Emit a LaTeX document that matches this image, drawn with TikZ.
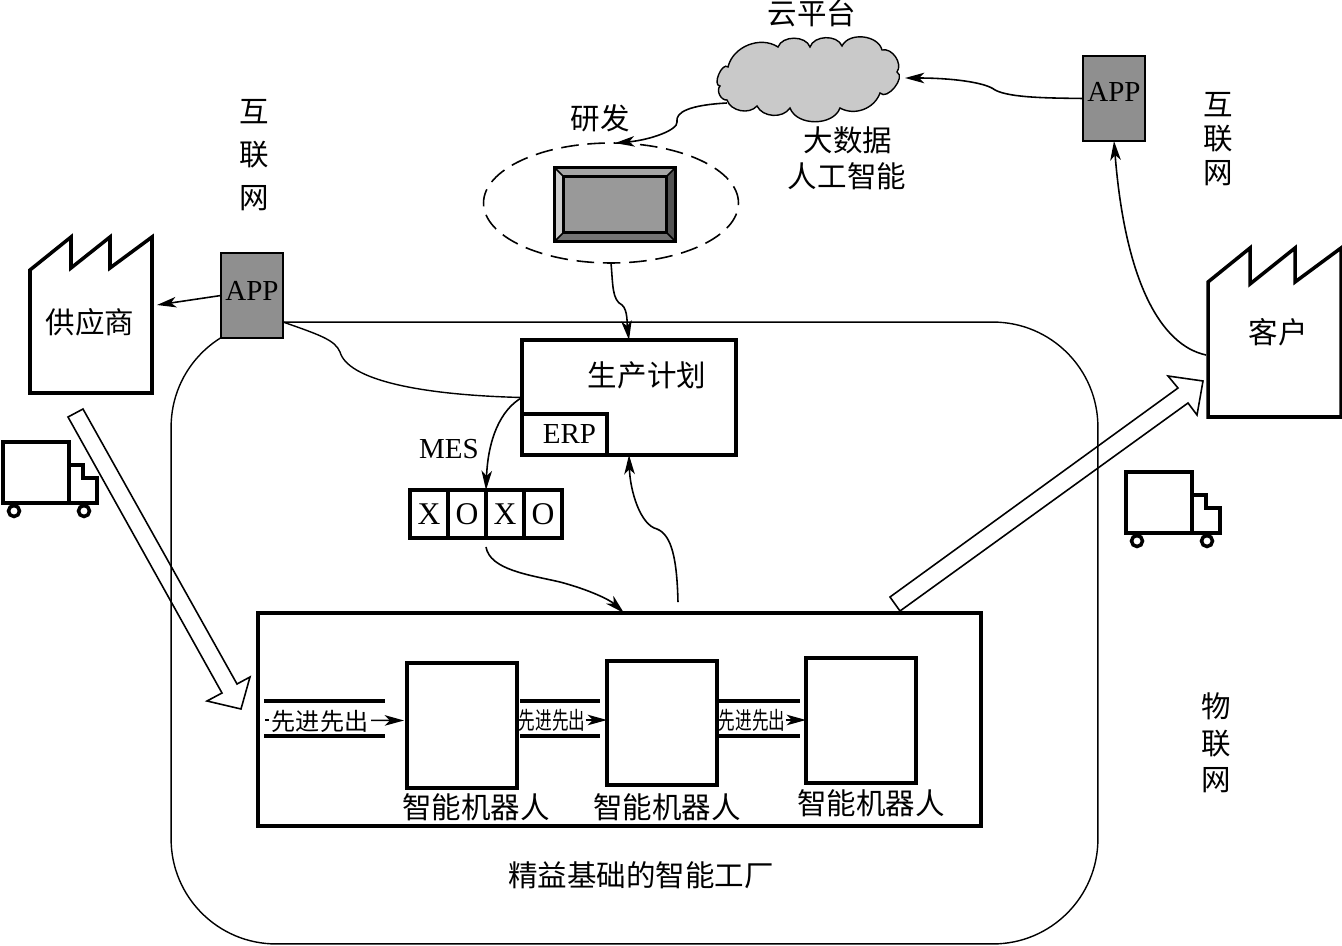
\documentclass[tikz,border=0pt]{standalone}
\usepackage{fontspec}
\usepackage{graphicx}
\setmainfont{Liberation Serif}
\newfontfamily\cjk{Noto Sans CJK SC}
\usetikzlibrary{arrows.meta,shapes.geometric}
\definecolor{appgray}{gray}{0.56}
\definecolor{cloudgray}{gray}{0.79}
\tikzset{
    flow/.style={-{Stealth[length=11pt,width=6pt,inset=3pt]}, line width=0.9pt},
    thinline/.style={line width=0.8pt},
    heavybox/.style={draw, line width=1.9pt, fill=white, inner sep=0pt, outer sep=0pt},
    appbox/.style={draw, line width=1.4pt, fill=appgray, inner sep=0pt, outer sep=0pt,
        minimum width=1.24cm, minimum height=1.7cm},
    robotbox/.style={heavybox, line width=2.1pt, minimum width=2.2cm},
    cell/.style={heavybox, line width=2.1pt, minimum width=0.76cm, minimum height=0.96cm, font=\fontsize{18}{20}\selectfont},
    lane/.style={line width=1.9pt},
    hollow/.style={draw, line width=0.9pt},
    plant/.style={draw, line width=2pt, fill=white, line join=miter},
    zh/.style={font=\cjk\fontsize{16.8}{20}\selectfont, inner sep=0pt},
    latin/.style={font=\fontsize{16.5}{20}\selectfont},
    fifo/.style={font=\cjk\fontsize{13.7}{16}\selectfont, inner sep=0pt},
    truck/.pic={
        \draw[line width=2pt] (66,23) -- (80,23) -- (80,36) -- (94,36) -- (94,61) -- (66,61);
        \draw[line width=2pt, fill=white] (0,0) rectangle (66,61);
        \draw[line width=2pt, fill=white] (11,69) circle (0.11cm);
        \draw[line width=2pt, fill=white] (81,69) circle (0.11cm);
    },
}
\begin{document}
\begin{tikzpicture}[x=0.02cm, y=-0.02cm]
    \useasboundingbox (0,0) rectangle (1342,946);

    \node[draw, line width=0.8pt, rounded corners=2.1cm, inner sep=0pt, outer sep=0pt,
        minimum width=18.54cm, minimum height=12.44cm] (zone) at (634.5,633) {};

    \draw[line width=0.8pt, fill=cloudgray] (728,67) to[bend left=55] (778,47) to[bend left=70] (810,47)
        to[bend left=70] (842,46) to[bend left=70] (882,50) to[bend left=70] (897,72) to[bend left=100] (880,93)
        to[bend left=50] (840,108) to[bend left=70] (790,108) to[bend left=60] (757,106)
        to[bend left=60] (727,100) to[bend left=70] (720,86) to[bend left=110] (728,67) -- cycle;
    \coordinate (cloudout) at (727,103);
    \coordinate (cloudin) at (905,78);
    \node[zh] (cloudtitle) at (812,13) {云平台};
    \node[zh] (bigdata) at (848,140) {大数据};
    \node[zh] (aitext) at (847,176) {人工智能};
    \node[zh] (rdtext) at (600,118) {研发};

    \node[ellipse, draw, line width=0.9pt, dash pattern=on 10pt off 5pt, inner sep=0pt, outer sep=0pt,
        minimum width=5.1cm, minimum height=2.4cm] (rdzone) at (611,203) {};
    \node[draw, line width=1.5pt, inner sep=0pt, minimum width=2.38cm, minimum height=1.44cm, fill=appgray] (screen) at (615,204.5) {};
    \node[draw, line width=1.1pt, inner sep=0pt, minimum width=2.02cm, minimum height=1.08cm, fill=black!40] (screenin) at (615,204.5) {};
    \fill[black!35] (screen.north west) -- (screen.north east) -- (screenin.north east) -- (screenin.north west) -- cycle;
    \fill[black!20] (screen.north west) -- (screen.south west) -- (screenin.south west) -- (screenin.north west) -- cycle;
    \fill[black!55] (screen.south west) -- (screen.south east) -- (screenin.south east) -- (screenin.south west) -- cycle;
    \fill[black!68] (screen.north east) -- (screen.south east) -- (screenin.south east) -- (screenin.north east) -- cycle;
    \draw[line width=1.5pt] (screen.north west) rectangle (screen.south east);
    \draw[line width=1.3pt] (screenin.north west) rectangle (screenin.south east);
    \draw[line width=0.9pt] (screen.north west) -- (screenin.north west);
    \draw[line width=0.9pt] (screen.north east) -- (screenin.north east);
    \draw[line width=0.9pt] (screen.south west) -- (screenin.south west);
    \draw[line width=0.9pt] (screen.south east) -- (screenin.south east);

    \node[appbox] (appleft) at (252,295.5) {};
    \node[latin, inner sep=0pt] (applefttext) at (252,291) {APP};
    \node[appbox] (appright) at (1114,98.5) {};
    \node[latin, inner sep=0pt] (apprighttext) at (1114,92) {APP};
    \node[zh, align=center] (netleft) at (254,155) {互\\[4.3pt]联\\[4.3pt]网};
    \node[zh, align=center] (netright) at (1218,139) {互\\[-0.6pt]联\\[-0.6pt]网};
    \node[zh, align=center] (iot) at (1216,743) {物\\[0.7pt]联\\[0.7pt]网};

    \draw[plant] (30,270) -- (71,237) -- (71,268) -- (110,237) -- (110,268) -- (152,237) -- (152,393) -- (30,393) -- cycle;
    \node[zh] (supplier) at (90,322) {供应商};
    \coordinate (supplierin) at (157,305);
    \draw[plant] (1208,282) -- (1250,248) -- (1250,284) -- (1295,248) -- (1295,282) -- (1341,248) -- (1341,417) -- (1208,417) -- cycle;
    \node[zh] (customer) at (1278,332) {客户};
    \coordinate (customerout) at (1206,355);

    \pic at (3,442) {truck};
    \pic at (1126,472) {truck};

    \draw[hollow] (68,417) -- (83,409) -- (237,684) -- (250,677) -- (241,709) -- (207,701) -- (222,693) -- cycle;
    \draw[hollow] (890,597) -- (900,611) -- (1188,403) -- (1197,415) -- (1203,381) -- (1168,376) -- (1178,388) -- cycle;

    \node[heavybox, minimum width=4.28cm, minimum height=2.3cm] (plan) at (629,397.5) {};
    \node[zh] (plantext) at (647,375) {生产计划};
    \node[heavybox, latin, minimum width=1.7cm, minimum height=0.82cm] (erp) at (564.5,434.5) {\hspace*{0.2cm}\raisebox{-1pt}{ERP}};
    \node[latin, inner sep=0pt] (mes) at (449,449) {MES};
    \foreach \i/\cellmark in {0/X,1/O,2/X,3/O}
        \node[cell] (cell\i) at (429+\i*38,514) {\raisebox{-1pt}{\cellmark}};

    \node[heavybox, minimum width=14.46cm, minimum height=4.26cm] (line) at (619.5,719.5) {};
    \node[robotbox, minimum height=2.5cm] (robota) at (462,725.5) {};
    \node[robotbox, minimum height=2.48cm] (robotb) at (662,723) {};
    \node[robotbox, minimum height=2.5cm] (robotc) at (861,720.5) {};
    \node[zh] (robotatext) at (476,807) {智能机器人};
    \node[zh] (robotbtext) at (667,807) {智能机器人};
    \node[zh] (robotctext) at (871,803) {智能机器人};
    \node[zh] (title) at (641,875) {精益基础的智能工厂};

    \draw[lane] (264,701) -- (385,701);
    \draw[lane] (264,736) -- (385,736);
    \draw[lane] (520,701) -- (600,701);
    \draw[lane] (520,736) -- (600,736);
    \draw[lane] (718,701) -- (800,701);
    \draw[lane] (718,736) -- (800,736);
    \coordinate (fifostart) at (265,720);
    \draw[flow] (fifostart) -- ([yshift=0.1cm, xshift=-0.06cm]robota.west);
    \node[fifo, fill=white, inner xsep=1.5pt] (fifoa) at (320,721) {先进先出};
    \node[fifo, fill=white] (fifob) at (552,720) {\scalebox{0.69}[1]{先进先出}};
    \draw[flow] (fifob) -- (fifob -| robotb.west);
    \node[fifo, fill=white] (fifoc) at (752,720) {\scalebox{0.69}[1]{先进先出}};
    \draw[flow] (fifoc) -- (fifoc -| robotc.west);

    \draw[flow] (cloudout) .. controls (690,105) and (675,112) .. (677,122) .. controls (678,130) and (650,140) .. (rdzone.86);
    \draw[flow] (appright.west) .. controls (1050,98) and (1010,98) .. (995,90) .. controls (985,82) and (950,78) .. (cloudin);
    \draw[flow] (customerout) .. controls (1160,345) and (1125,280) .. (appright.south);
    \draw[flow] (rdzone.south) .. controls (613,285) and (612,300) .. (622,305) .. controls (628,310) and (627,325) .. (plan.north);
    \draw[flow] (appleft.west) -- (supplierin);
    \draw[thinline] ([yshift=-0.53cm]appleft.east) .. controls (320,335) and (335,340) .. (340,352) .. controls (348,380) and (420,395) .. (plan.west);
    \draw[flow] (plan.west) .. controls (500,410) and (488,440) .. (cell1.north east);
    \draw[flow] ([yshift=-0.18cm]cell1.south east) .. controls (490,570) and (530,575) .. (560,582) .. controls (590,590) and (610,600) .. ([xshift=0.09cm]line.north);
    \draw[flow] ([xshift=1.17cm, yshift=0.22cm]line.north) .. controls (677,560) and (672,535) .. (657,529) .. controls (640,525) and (630,490) .. (plan.south);
\end{tikzpicture}
\end{document}
